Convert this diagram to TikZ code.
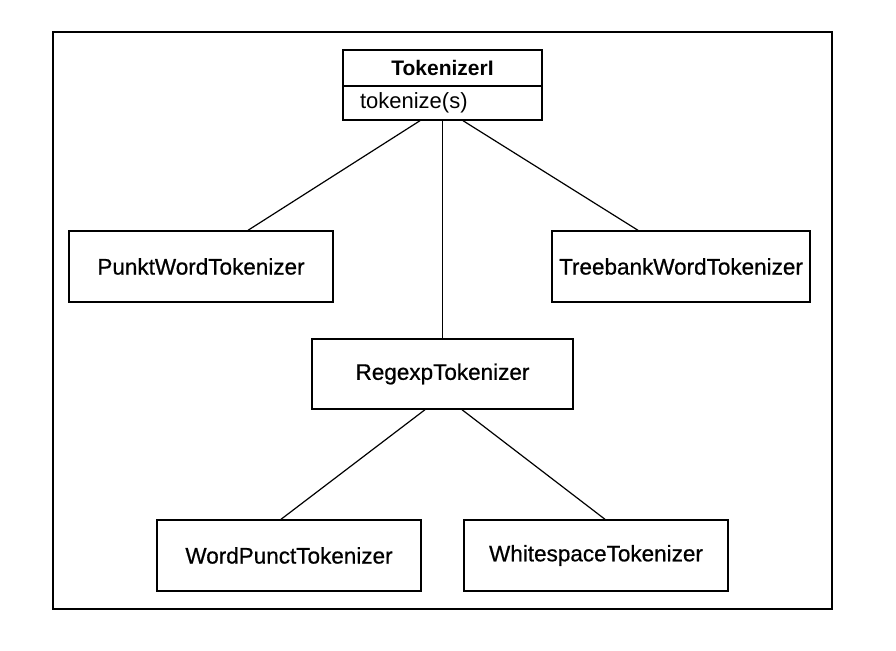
\documentclass[tikz,border=0pt]{standalone}
\usepackage{fontspec}
\setmainfont{Liberation Sans}
\newfontfamily\medfont{Liberation Sans}[BoldFont={Liberation Sans}, BoldFeatures={FakeBold=0.7}]
\begin{document}
\begin{tikzpicture}[x=1pt,y=-1pt,
  box/.style={draw, line width=1.4pt, rectangle, inner sep=0pt, font=\medfont\bfseries\fontsize{22.5}{26}\selectfont},
  link/.style={line width=1.2pt}]
\useasboundingbox (0,0) rectangle (896,650);
\draw[line width=2pt] (53,32) rectangle (832,609);
\node[box, minimum width=199pt, minimum height=36pt, font=\normalfont\fontsize{21}{24}\selectfont\bfseries] (tt) at (442.5,68) {TokenizerI};
\node[box, minimum height=34pt, inner xsep=17pt, text width=165pt, align=left, font=\normalfont\fontsize{22}{25}\selectfont] (tm) at (442.5,103) {tokenize(s)};
\node[box, minimum width=264pt, minimum height=71pt] (pw) at (201,266.5) {PunktWordTokenizer};
\node[box, minimum width=258pt, minimum height=71pt] (tb) at (681,266.5) {TreebankWordTokenizer};
\node[box, minimum width=261pt, minimum height=70pt] (rg) at (442.5,374) {RegexpTokenizer};
\node[box, minimum width=264pt, minimum height=71pt] (wp) at (289,555.5) {WordPunctTokenizer};
\node[box, minimum width=264pt, minimum height=71pt] (ws) at (596,555.5) {WhitespaceTokenizer};
\draw[link] ([xshift=-22.5pt]tm.south) -- ([xshift=47pt]pw.north);
\draw[link] (tm.south) -- (rg.north);
\draw[link] ([xshift=20.5pt]tm.south) -- ([xshift=-43pt]tb.north);
\draw[link] ([xshift=-17.5pt]rg.south) -- ([xshift=-8pt]wp.north);
\draw[link] ([xshift=19.5pt]rg.south) -- ([xshift=9pt]ws.north);
\end{tikzpicture}
\end{document}
